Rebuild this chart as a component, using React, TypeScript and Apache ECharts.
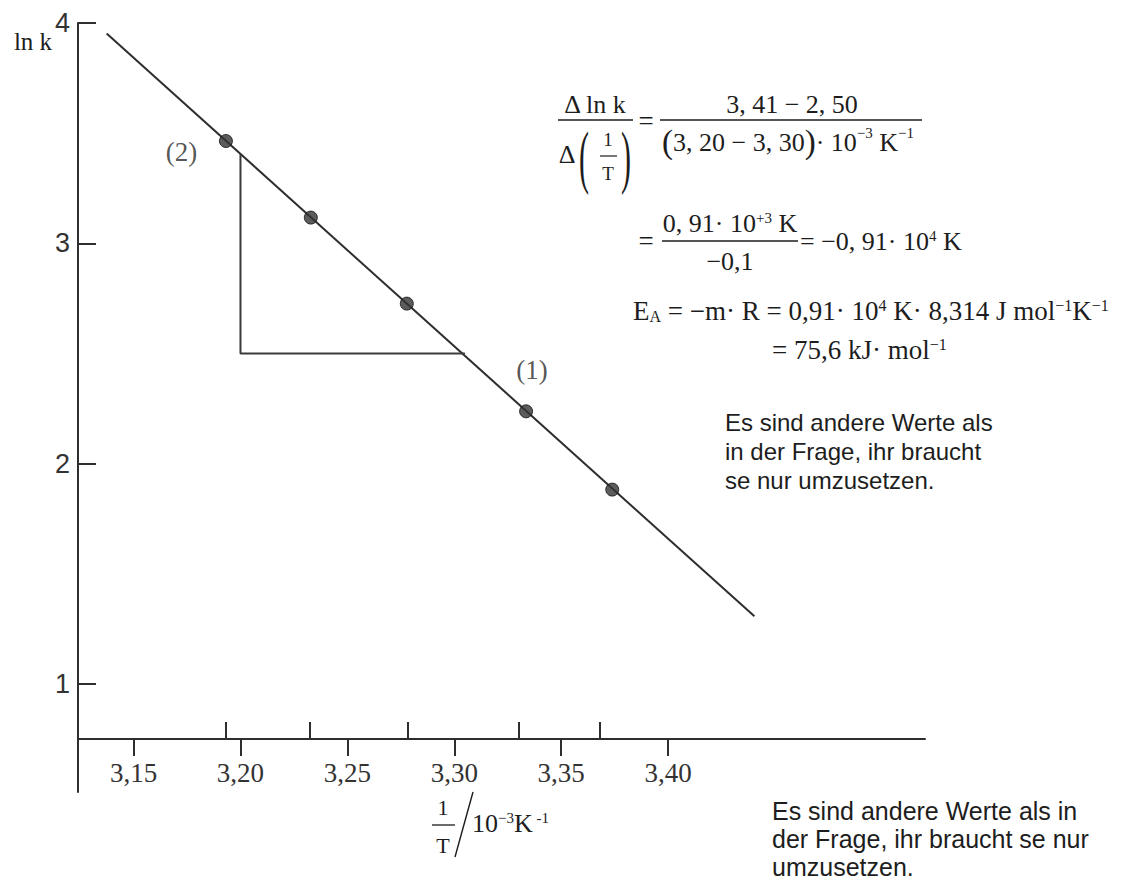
import React, { useEffect, useRef } from "react";
import * as echarts from "echarts";

// ---------- data ----------
const xTickLabels = [3.15, 3.2, 3.25, 3.3, 3.35, 3.4];
const yTickLabels = [1, 2, 3, 4];
const measuredInvT = [3.1931, 3.2326, 3.2781, 3.33, 3.3679]; // upward ticks on the x axis
const pointInvT = [3.1932, 3.2329, 3.2778, 3.3336, 3.3739];
const pointLnK = [3.4646, 3.1171, 2.7268, 2.2382, 1.8829];
const fitLineInvT = [3.1374, 3.4404];
const fitLineLnK = [3.952, 1.308];
const triangleInvT = [3.305, 3.2, 3.2];
const triangleLnK = [2.5, 2.5, 3.405];
const vertexInvT = [3.305, 3.2];
const vertexLnK = [2.5, 3.405];
const vertexNames = ["(1)", "(2)"];

const X_MIN = 3.124;
const X_MAX = 3.5202;
const Y_MIN = 0.511;
const Y_MAX = 4;

const SERIF = "'Liberation Serif', 'Times New Roman', serif";
const SANS = "'Liberation Sans', Arial, Helvetica, sans-serif";
const INK = "#1d1d1d";
const LINE = "#2e2e2e";

const rich = (s: number) => ({
  sup: { fontSize: Math.round(s * 0.58), fontFamily: SERIF, fill: INK, verticalAlign: "top" as const },
  sub: { fontSize: Math.round(s * 0.58), fontFamily: SERIF, fill: INK, verticalAlign: "bottom" as const, padding: [6, 0, 0, 0] },
  big: { fontSize: Math.round(s * 1.25), fontFamily: SERIF, fill: INK },
});

const txt = (text: string, x: number, y: number, size: number, align = "center", family = SERIF, extra: any = {}) => ({
  type: "text",
  x,
  y,
  ...extra,
  style: {
    text,
    fontSize: size,
    fontFamily: family,
    fill: INK,
    align,
    verticalAlign: "middle",
    rich: rich(size),
  },
});

const bar = (x1: number, x2: number, y: number, w = 1.5) => ({
  type: "line",
  shape: { x1, y1: y, x2, y2: y },
  style: { stroke: INK, lineWidth: w },
});

export default function App() {
  const ref = useRef<HTMLDivElement>(null);

  useEffect(() => {
    if (!ref.current) return;
    const chart = echarts.init(ref.current, null, { renderer: "svg" });

    const fmt = (v: number) => v.toFixed(2).replace(".", ",");

    const graphic: any[] = [
      // y-axis name
      txt("ln k", 33, 41, 25),
      // x-axis name: 1/T / 10^-3 K^-1
      txt("1", 443, 807, 22),
      bar(432, 455, 825, 1.3),
      txt("T", 443, 845, 22),
      { type: "line", shape: { x1: 473, y1: 792, x2: 455, y2: 857 }, style: { stroke: INK, lineWidth: 1.4 } },
      txt("10{sup|−3}K{sup| -1}", 472, 823, 26, "left"),

      // formula line 1
      txt("Δ ln k", 595, 104, 26),
      bar(558, 633, 120),
      txt("Δ", 567, 154, 26),
      txt("(", 584, 157, 30, "center", SERIF, { scaleY: 2.3 }),
      txt(")", 626, 157, 30, "center", SERIF, { scaleY: 2.3 }),
      txt("1", 608, 139, 19),
      bar(600, 617, 156, 1.2),
      txt("T", 608, 173, 19),
      txt("=", 646, 121, 27),
      txt("3, 41 − 2, 50", 792, 104, 26),
      bar(660, 922, 120),
      txt("{big|(}3, 20 − 3, 30{big|)}· 10{sup|−3} K{sup|−1}", 662, 142, 26, "left"),

      // formula line 2
      txt("=", 646, 241, 27),
      txt("0, 91· 10{sup|+3} K", 730, 223, 26),
      bar(662, 798, 241),
      txt("−0,1", 730, 261, 26),
      txt("= −0, 91· 10{sup|4} K", 800, 241, 26, "left"),

      // formula line 3/4
      txt("E{sub|A} = −m· R = 0,91· 10{sup|4} K· 8,314 J mol{sup|−1}K{sup|−1}", 633, 311, 27, "left"),
      txt("= 75,6 kJ· mol{sup|−1}", 772, 350, 27, "left"),

      // notes
      txt("Es sind andere Werte als", 725, 422, 24, "left", SANS),
      txt("in der Frage, ihr braucht", 725, 451, 24, "left", SANS),
      txt("se nur umzusetzen.", 725, 480, 24, "left", SANS),
      txt("Es sind andere Werte als in", 772, 811, 25, "left", SANS),
      txt("der Frage, ihr braucht se nur", 772, 839, 25, "left", SANS),
      txt("umzusetzen.", 772, 867, 25, "left", SANS),
    ];

    const option: any = {
      animation: false,
      backgroundColor: "#ffffff",
      grid: { left: 78, top: 23, width: 847, height: 769, containLabel: false, outerBoundsMode: "none" },
      xAxis: [
        {
          type: "value",
          min: X_MIN,
          max: X_MAX,
          position: "bottom",
          offset: -53,
          splitLine: { show: false },
          axisLine: { show: true, lineStyle: { color: LINE, width: 2 } },
          axisTick: { show: true, inside: false, length: 17, customValues: xTickLabels, lineStyle: { color: LINE, width: 2 } },
          axisLabel: {
            show: true,
            customValues: xTickLabels,
            formatter: fmt,
            fontFamily: SERIF,
            fontSize: 27,
            color: "#333",
            margin: 20,
          },
        },
        {
          type: "value",
          min: X_MIN,
          max: X_MAX,
          position: "bottom",
          offset: -53,
          splitLine: { show: false },
          axisLine: { show: false },
          axisTick: { show: true, inside: true, length: 17, customValues: measuredInvT, lineStyle: { color: LINE, width: 2 } },
          axisLabel: { show: false },
        },
      ],
      yAxis: {
        type: "value",
        min: Y_MIN,
        max: Y_MAX,
        splitLine: { show: false },
        axisLine: { show: true, lineStyle: { color: LINE, width: 2 } },
        axisTick: { show: true, inside: true, length: 18, customValues: yTickLabels, lineStyle: { color: LINE, width: 2 } },
        axisLabel: {
          show: true,
          customValues: yTickLabels,
          fontFamily: SANS,
          fontSize: 27,
          color: "#333",
          margin: 8,
          showMinLabel: true,
          showMaxLabel: true,
        },
      },
      series: [
        {
          type: "line",
          name: "fit",
          data: fitLineInvT.map((x, i) => [x, fitLineLnK[i]]),
          showSymbol: false,
          symbol: "none",
          lineStyle: { color: LINE, width: 2 },
          silent: true,
        },
        {
          type: "line",
          name: "triangle",
          data: triangleInvT.map((x, i) => [x, triangleLnK[i]]),
          showSymbol: false,
          symbol: "none",
          lineStyle: { color: "#3a3a3a", width: 2 },
          silent: true,
        },
        {
          type: "scatter",
          name: "points",
          data: pointInvT.map((x, i) => [x, pointLnK[i]]),
          symbolSize: 13,
          itemStyle: { color: "#333", borderColor: "#111", borderWidth: 1 },
          z: 5,
        },
        {
          type: "scatter",
          name: "vertices",
          symbolSize: 0,
          data: vertexInvT.map((x, i) => ({
            value: [x, vertexLnK[i]],
            label: {
              show: true,
              formatter: vertexNames[i],
              position: "inside",
              offset: i === 0 ? [67, 16] : [-59, -2],
              fontFamily: SERIF,
              fontSize: 27,
              color: "#2a2a2a",
            },
          })),
        },
      ],
      graphic,
    };

    chart.setOption(option);
    return () => chart.dispose();
  }, []);

  return (
    <div
      ref={ref}
      style={{ position: "fixed", left: 0, top: 0, width: 1144, height: 885, background: "#fff" }}
    />
  );
}
